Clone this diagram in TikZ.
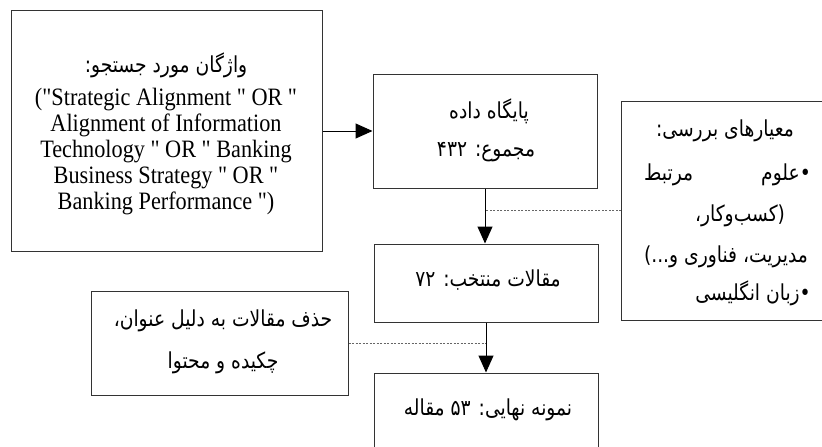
\documentclass[tikz,border=0pt]{standalone}
\usepackage{fontspec}
\setmainfont{Liberation Serif}
\newfontfamily\enfont[FakeStretch=0.89]{Liberation Serif}
\newfontfamily\fafont[Script=Arabic,FakeStretch=0.85]{DejaVu Sans}
\TeXXeTstate=1
\usetikzlibrary{arrows.meta}
\newcommand{\fa}[1]{\beginR #1\endR}
\begin{document}
\begin{tikzpicture}[x=1pt,y=-1pt,
  box/.style={draw=black!80, line width=1pt, rectangle, inner sep=0pt},
  txt/.style={inner sep=0pt, font=\fafont\fontsize{22}{24}\selectfont},
  entxt/.style={inner sep=0pt, align=center, font=\enfont\fontsize{25}{26}\selectfont},
  flow/.style={line width=1pt, -{Triangle[length=17pt,width=15pt]}},
  hint/.style={draw=black!60, line width=0.6pt, dash pattern=on 2pt off 1.5pt}]
\useasboundingbox (0,0) rectangle (822,447);
\clip (0,0) rectangle (822,447);
% boxes
\node[box, minimum width=311pt, minimum height=241pt] (search) at (166.5,130.5) {};
\node[box, minimum width=224pt, minimum height=114pt] (db) at (485,131) {};
\node[box, minimum width=218.5pt, minimum height=218.5pt] (crit) at (730.75,210.75) {};
\node[box, minimum width=224pt, minimum height=78pt] (sel) at (486,283) {};
\node[box, minimum width=257pt, minimum height=103.5pt] (rem) at (219.5,343.25) {};
\node[box, minimum width=223.5pt, minimum height=97pt] (final) at (486.25,421.5) {};
% texts
\node[txt] (searchT) at (166,65) {\fa{واژگان مورد جستجو:}};
\node[entxt] (searchE) at (166,152) {("Strategic Alignment " OR "\\ Alignment of Information\\ Technology " OR " Banking\\ Business Strategy " OR "\\ Banking Performance ")};
\node[txt] (dbT1) at (489,111) {\fa{پایگاه داده}};
\node[txt] (dbT2) at (486,152) {\fa{مجموع: ۴۳۲}};
\node[txt] (selT) at (488,280) {\fa{مقالات منتخب: ۷۲}};
\node[txt] (finalT) at (488,410) {\fa{نمونه نهایی: ۵۳ مقاله}};
\node[txt] (remT1) at (223,321) {\fa{حذف مقالات به دلیل عنوان،}};
\node[txt] (remT2) at (223,363) {\fa{چکیده و محتوا}};
\node[txt] (critT) at (725,131) {\fa{معیارهای بررسی:}};
\node[txt, anchor=east] (critA) at (811,175) {\fa{•علوم}};
\node[txt, anchor=west] (critB) at (644,175) {\fa{مرتبط}};
\node[txt] (critC) at (740,216) {\fa{(کسب‌وکار،}};
\node[txt] (critD) at (726,257) {\fa{مدیریت، فناوری و...)}};
\node[txt, anchor=east] (critE) at (811,293) {\fa{•زبان انگلیسی}};
% connectors
\draw[flow] (search.east |- db.west) -- (db.west);
\draw[flow] (db.south) -- (db.south |- sel.north);
\draw[flow] (sel.south) -- (sel.south |- final.north);
\draw[hint] (crit.west) -- (crit.west -| db.south);
\draw[hint] (rem.east) -- (rem.east -| sel.south);
\end{tikzpicture}
\end{document}
